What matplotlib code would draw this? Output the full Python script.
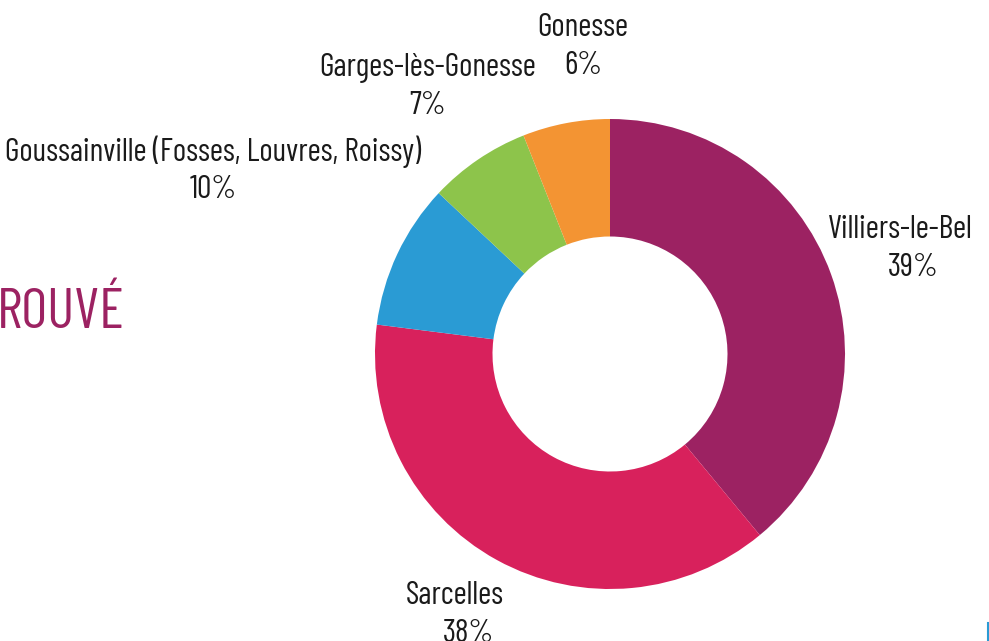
import matplotlib.pyplot as plt
from matplotlib.lines import Line2D

# Données
communes = ["Villiers-le-Bel", "Sarcelles", "Goussainville (Fosses, Louvres, Roissy)",
            "Garges-lès-Gonesse", "Gonesse"]
parts = [39, 38, 10, 7, 6]
couleurs = ["#9C2262", "#D8215C", "#2A9BD4", "#8DC44B", "#F39433"]

W, H = 989, 641
fig = plt.figure(figsize=(W / 100, H / 100), dpi=100)
ax = fig.add_axes([0, 0, 1, 1])

police = ["Barlow Condensed", "DejaVu Sans"]

# Anneau
cx, cy, r = 610, H - 354, 235
ax.pie(parts, colors=couleurs, startangle=90, counterclock=False,
       center=(cx, cy), radius=r, frame=True,
       wedgeprops={"width": r * 0.5, "linewidth": 0})
ax.set_xlim(0, W)
ax.set_ylim(0, H)
ax.set_aspect("equal")
ax.axis("off")

# Étiquettes (centre du nom, en pixels depuis le haut)
pos_labels = [(900, 230), (455, 596), (213, 152), (428, 68), (583, 28)]
decal_pct = [13, 13, 0, 0, 0]
for nom, p, (x, y), d in zip(communes, parts, pos_labels, decal_pct):
    ax.text(x, H - y, nom, ha="center", va="center", fontsize=23, weight="normal",
            family=police, color="#1a1a1a")
    ax.text(x + d, H - y - 38, f"{p}%", ha="center", va="center", fontsize=23,
            weight="normal", family=police, color="#1a1a1a")

# Titre coupé à gauche
ax.text(-3, H - 313, "ROUVÉ", ha="left", va="center", fontsize=41,
        family=police, weight="normal", color="#9C2262")

# Petit trait bleu en bas à droite
fig.add_artist(Line2D([987.5 / W, 987.5 / W], [0, 18 / H], color="#2A9BD4",
                      linewidth=1.5, transform=fig.transFigure))

fig.savefig("out.png", dpi=100)
